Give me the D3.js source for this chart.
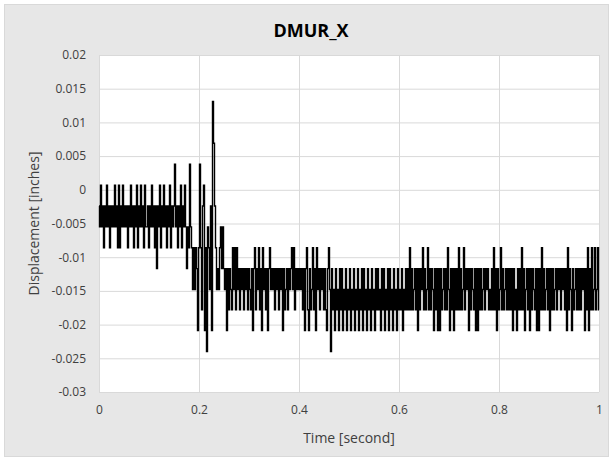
<!DOCTYPE html>
<html>
<head>
<meta charset="utf-8">
<script src="https://cdn.jsdelivr.net/npm/d3@7"></script>
<style>
  html, body { margin: 0; padding: 0; background: #ffffff; }
  svg { display: block; }
</style>
</head>
<body>
<svg id="chart" width="613" height="461"></svg>
<script>
// ---- data ----
const chartTitle = "DMUR_X";
const xLabel = "Time [second]";
const yLabel = "Displacement [inches]";
const xTicks = [0, 0.2, 0.4, 0.6, 0.8, 1];
const xTickLabels = ["0", "0.2", "0.4", "0.6", "0.8", "1"];
const yTicks = [0.02, 0.015, 0.01, 0.005, 0, -0.005, -0.01, -0.015, -0.02, -0.025, -0.03];
const yTickLabels = ["0.02", "0.015", "0.01", "0.005", "0", "-0.005", "-0.01", "-0.015", "-0.02", "-0.025", "-0.03"];
const sampleInterval = 0.002; // seconds between samples, starting at t = 0

// t = 0 .. 0.176 s
const dispInitial = [
-0.0024,-0.0055,0.0007,-0.0055,-0.0024,-0.0086,-0.0024,-0.0055,0.0007,-0.0055,
-0.0024,-0.0086,-0.0024,-0.0055,-0.0024,-0.0055,0.0007,-0.0055,-0.0024,-0.0086,
0.0007,-0.0086,-0.0024,-0.0055,0.0007,-0.0055,-0.0024,-0.0055,-0.0024,-0.0086,
-0.0024,-0.0055,0.0007,-0.0055,-0.0024,-0.0086,-0.0024,-0.0055,0.0007,-0.0086,
-0.0024,-0.0055,0.0007,-0.0055,-0.0024,-0.0086,0.0007,-0.0055,-0.0055,-0.0024,
-0.0086,-0.0024,-0.0055,0.0007,-0.0055,-0.0024,-0.0086,-0.0024,-0.0117,-0.0024,
-0.0055,0.0007,-0.0086,-0.0024,-0.0055,0.0007,-0.0055,-0.0024,-0.0086,-0.0024,
-0.0055,0.0007,-0.0086,-0.0024,-0.0055,-0.0024,0.0038,-0.0055,-0.0024,-0.0086,
-0.0024,-0.0055,0.0007,-0.0086,-0.0024,-0.0055,0.0007,-0.0055,-0.0117
];
// t = 0.178 .. 0.25 s
const dispTransition = [
-0.0055,-0.0086,0.0038,-0.0055,-0.0086,-0.0148,-0.0086,-0.0148,-0.0086,-0.0117,
-0.0209,-0.0086,0.0038,-0.0086,-0.0178,-0.0024,0.0007,-0.0209,-0.0086,-0.024,
-0.0055,-0.0086,-0.0148,-0.0024,-0.0209,0.0131,0.0069,-0.0024,-0.0086,-0.0148,
-0.0117,-0.0148,-0.0086,-0.0055,-0.0117,-0.0055,-0.0117
];
// t = 0.252 .. 0.46 s
const dispSettling = [
-0.0148,-0.0117,-0.0209,-0.0117,-0.0178,-0.0117,-0.0148,-0.0178,-0.0086,-0.0148,
-0.0086,-0.0178,-0.0086,-0.0148,-0.0117,-0.0178,-0.0117,-0.0148,-0.0117,-0.0178,
-0.0117,-0.0148,-0.0117,-0.0178,-0.0117,-0.0148,-0.0178,-0.0117,-0.0209,-0.0117,
-0.0086,-0.0178,-0.0117,-0.0148,-0.0086,-0.0178,-0.0117,-0.0209,-0.0086,-0.0148,
-0.0117,-0.0178,-0.0117,-0.0209,-0.0117,-0.0086,-0.0148,-0.0117,-0.0148,-0.0117,
-0.0178,-0.0117,-0.0148,-0.0117,-0.0178,-0.0117,-0.0148,-0.0117,-0.0209,-0.0117,
-0.0178,-0.0148,-0.0117,-0.0178,-0.0117,-0.0148,-0.0117,-0.0086,-0.0148,-0.0086,
-0.0178,-0.0117,-0.0148,-0.0117,-0.0148,-0.0117,-0.0148,-0.0117,-0.0178,-0.0117,
-0.0209,-0.0117,-0.0086,-0.0178,-0.0209,-0.0117,-0.0178,-0.0148,-0.0086,-0.0178,
-0.0117,-0.0209,-0.0086,-0.0148,-0.0117,-0.0178,-0.0117,-0.0148,-0.0117,-0.0178,
-0.0117,-0.0178,-0.0209,-0.0117,-0.0086
];
// t = 0.462 .. 1.0 s
const dispSteady = [
-0.0148,-0.024,-0.0117,-0.0178,-0.0148,-0.0209,-0.0117,-0.0178,-0.0148,-0.0209,
-0.0117,-0.0178,-0.0117,-0.0209,-0.0148,-0.0178,-0.0117,-0.0209,-0.0148,-0.0178,
-0.0117,-0.0209,-0.0148,-0.0178,-0.0117,-0.0209,-0.0148,-0.0178,-0.0117,-0.0209,
-0.0148,-0.0178,-0.0117,-0.0209,-0.0117,-0.0178,-0.0148,-0.0209,-0.0117,-0.0178,
-0.0148,-0.0209,-0.0117,-0.0178,-0.0148,-0.0209,-0.0117,-0.0178,-0.0117,-0.0178,
-0.0148,-0.0209,-0.0117,-0.0178,-0.0117,-0.0209,-0.0148,-0.0178,-0.0117,-0.0209,
-0.0117,-0.0178,-0.0148,-0.0209,-0.0117,-0.0178,-0.0148,-0.0209,-0.0117,-0.0178,
-0.0148,-0.0178,-0.0117,-0.0209,-0.0148,-0.0178,-0.0117,-0.0178,-0.0117,-0.0178,
-0.0086,-0.0178,-0.0117,-0.0178,-0.0148,-0.0117,-0.0178,-0.0117,-0.0209,-0.0117,
-0.0178,-0.0117,-0.0148,-0.0086,-0.0178,-0.0117,-0.0178,-0.0148,-0.0086,-0.0178,
-0.0117,-0.0178,-0.0117,-0.0148,-0.0209,-0.0117,-0.0178,-0.0117,-0.0209,-0.0117,
-0.0209,-0.0117,-0.0178,-0.0148,-0.0117,-0.0178,-0.0117,-0.0178,-0.0086,-0.0148,
-0.0209,-0.0117,-0.0178,-0.0117,-0.0209,-0.0117,-0.0178,-0.0117,-0.0178,-0.0086,
-0.0178,-0.0117,-0.0178,-0.0148,-0.0086,-0.0178,-0.0117,-0.0148,-0.0117,-0.0209,
-0.0117,-0.0178,-0.0117,-0.0148,-0.0178,-0.0117,-0.0209,-0.0117,-0.0209,-0.0117,
-0.0178,-0.0117,-0.0178,-0.0148,-0.0117,-0.0178,-0.0117,-0.0148,-0.0117,-0.0178,
-0.0148,-0.0178,-0.0117,-0.0178,-0.0086,-0.0178,-0.0117,-0.0209,-0.0117,-0.0178,
-0.0148,-0.0086,-0.0178,-0.0117,-0.0178,-0.0148,-0.0117,-0.0178,-0.0117,-0.0178,
-0.0117,-0.0178,-0.0117,-0.0209,-0.0117,-0.0178,-0.0148,-0.0209,-0.0117,-0.0178,
-0.0117,-0.0178,-0.0086,-0.0178,-0.0117,-0.0209,-0.0148,-0.0117,-0.0178,-0.0117,
-0.0209,-0.0117,-0.0178,-0.0117,-0.0148,-0.0178,-0.0117,-0.0209,-0.0117,-0.0209,
-0.0117,-0.0178,-0.0086,-0.0178,-0.0117,-0.0178,-0.0148,-0.0117,-0.0178,-0.0117,
-0.0209,-0.0117,-0.0178,-0.0117,-0.0178,-0.0148,-0.0117,-0.0178,-0.0117,-0.0148,
-0.0117,-0.0178,-0.0117,-0.0148,-0.0117,-0.0178,-0.0117,-0.0209,-0.0086,-0.0178,
-0.0117,-0.0148,-0.0209,-0.0117,-0.0178,-0.0148,-0.0117,-0.0178,-0.0117,-0.0178,
-0.0117,-0.0178,-0.0117,-0.0148,-0.0117,-0.0209,-0.0117,-0.0178,-0.0086,-0.0209,
-0.0117,-0.0178,-0.0086,-0.0178,-0.0148,-0.0086,-0.0178,-0.0148,-0.0086,-0.0178
];

// ---- build series ----
const displacement = [].concat(dispInitial, dispTransition, dispSettling, dispSteady);
const series = displacement.map((v, i) => ({ t: i * sampleInterval, v: v }));

// ---- layout ----
const W = 613, H = 461;
const plot = { left: 99, right: 599, top: 55, bottom: 392 };
const font = "'Open Sans', 'Liberation Sans', sans-serif";
const textColor = "#404040";
const gridColor = "#d9d9d9";

const svg = d3.select("#chart");

svg.append("rect")
  .attr("x", 4.5).attr("y", 4.5)
  .attr("width", W - 9).attr("height", H - 9)
  .attr("fill", "#e7e7e7")
  .attr("stroke", "#d9d9d9");

const x = d3.scaleLinear().domain([0, 1]).range([plot.left, plot.right]);
const y = d3.scaleLinear().domain([-0.03, 0.02]).range([plot.bottom, plot.top]);

svg.append("rect")
  .attr("x", plot.left).attr("y", plot.top)
  .attr("width", plot.right - plot.left).attr("height", plot.bottom - plot.top)
  .attr("fill", "#ffffff");

// gridlines
const yAxisGrid = d3.axisLeft(y).tickValues(yTicks)
  .tickSize(-(plot.right - plot.left)).tickFormat("");
svg.append("g").attr("transform", `translate(${plot.left},0)`).call(yAxisGrid)
  .call(g => g.select(".domain").remove())
  .call(g => g.selectAll("line").attr("stroke", gridColor).attr("stroke-width", 1));

const xAxisGrid = d3.axisBottom(x).tickValues(xTicks)
  .tickSize(-(plot.bottom - plot.top)).tickFormat("");
svg.append("g").attr("transform", `translate(0,${plot.bottom})`).call(xAxisGrid)
  .call(g => g.select(".domain").remove())
  .call(g => g.selectAll("line").attr("stroke", gridColor).attr("stroke-width", 1));

// data line (dense sampled signal: transitions drawn as vertical strokes)
const line = d3.line().curve(d3.curveStep).x(d => x(d.t)).y(d => y(d.v));
svg.append("path")
  .datum(series)
  .attr("d", line)
  .attr("fill", "none")
  .attr("stroke", "#000000")
  .attr("stroke-width", 1.4)
  .attr("stroke-linejoin", "miter");

// tick labels
const yAxis = d3.axisLeft(y).tickValues(yTicks).tickSize(0).tickPadding(13)
  .tickFormat((d, i) => yTickLabels[i]);
svg.append("g").attr("transform", `translate(${plot.left},0)`).call(yAxis)
  .call(g => g.select(".domain").remove())
  .call(g => g.selectAll("text").attr("font-family", font).attr("font-size", 12).attr("fill", textColor));

const xAxis = d3.axisBottom(x).tickValues(xTicks).tickSize(0).tickPadding(13)
  .tickFormat((d, i) => xTickLabels[i]);
svg.append("g").attr("transform", `translate(0,${plot.bottom})`).call(xAxis)
  .call(g => g.select(".domain").remove())
  .call(g => g.selectAll("text").attr("font-family", font).attr("font-size", 12).attr("fill", textColor));

// title & axis titles
svg.append("text")
  .attr("x", 311).attr("y", 37)
  .attr("text-anchor", "middle")
  .attr("font-family", font).attr("font-size", 18).attr("font-weight", "bold")
  .attr("fill", "#000000")
  .text(chartTitle);

svg.append("text")
  .attr("x", (plot.left + plot.right) / 2).attr("y", 443)
  .attr("text-anchor", "middle")
  .attr("font-family", font).attr("font-size", 14)
  .attr("fill", textColor)
  .text(xLabel);

svg.append("text")
  .attr("transform", `translate(39,${(plot.top + plot.bottom) / 2}) rotate(-90)`)
  .attr("text-anchor", "middle")
  .attr("font-family", font).attr("font-size", 14)
  .attr("fill", textColor)
  .text(yLabel);
</script>
</body>
</html>
